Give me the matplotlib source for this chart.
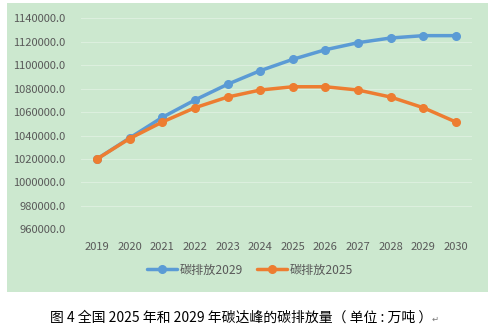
import matplotlib
matplotlib.use("Agg")
import matplotlib.pyplot as plt
from matplotlib.patches import Rectangle

plt.rcParams['font.family'] = ['Noto Sans CJK SC', 'DejaVu Sans']

# emissions by year, two peak scenarios
years = ['2019', '2020', '2021', '2022', '2023', '2024', '2025', '2026',
         '2027', '2028', '2029', '2030']
peak_2029 = [1020000, 1037900, 1055500, 1070300, 1083700, 1095300, 1105000,
             1113200, 1119200, 1123200, 1125200, 1125200]
peak_2025 = [1020000, 1037400, 1051500, 1063700, 1072800, 1078800, 1081600,
             1081600, 1078800, 1072800, 1063700, 1051500]
series_names = ['碳排放2029', '碳排放2025']
caption = '图 4 全国 2025 年和 2029 年碳达峰的碳排放量（ 单位 : 万吨 ）'

W, H = 494, 326
fig = plt.figure(figsize=(W / 100, H / 100), dpi=100)
fig.patch.set_facecolor('white')

# green chart panel
fig.patches.append(Rectangle((7 / W, 1 - 292 / H), 481 / W, 289 / H,
                             transform=fig.transFigure, facecolor='#cce8cf',
                             edgecolor='none', zorder=-1))

ax = fig.add_axes([80.7 / W, 1 - 229.3 / H, 391.6 / W, 211 / H])
ax.set_zorder(1)
ax.set_facecolor('none')
x = range(len(years))
l1, = ax.plot(x, peak_2029, color='#5b9bd5', lw=2.5, marker='o', ms=5.5,
              solid_capstyle='round', label=series_names[0])
l2, = ax.plot(x, peak_2025, color='#ed7d31', lw=2.5, marker='o', ms=5.5,
              solid_capstyle='round', label=series_names[1])

ax.set_xlim(-0.5, len(years) - 0.5)
ax.set_ylim(960000, 1140000)
ax.set_yticks(range(960000, 1140001, 20000))
ax.set_yticklabels([f'{v:.1f}' for v in range(960000, 1140001, 20000)])
ax.set_xticks(list(x))
ax.set_xticklabels(years)
ax.tick_params(length=0, colors='#595959', labelsize=8)
ax.tick_params(axis='y', pad=11)
ax.tick_params(axis='x', pad=9)
ax.grid(axis='y', color='#dcefde', lw=0.8)
ax.set_axisbelow(True)
for s in ax.spines.values():
    s.set_visible(False)

leg = fig.legend(handles=[l1, l2], loc='center', ncol=2,
                 bbox_to_anchor=(250 / W, 1 - 270 / H), frameon=False,
                 fontsize=8.7, handlelength=2.5, columnspacing=1.2,
                 handletextpad=0.2)
for t in leg.get_texts():
    t.set_color('#595959')

fig.text(241 / W, 1 - 318 / H, caption, ha='center', va='center',
         fontsize=10, color='black')
fig.text(432 / W, 1 - 319 / H, '↵', ha='left', va='center',
         fontsize=6, color='#777777', family=['DejaVu Sans'])

fig.savefig('out.png', dpi=100)
